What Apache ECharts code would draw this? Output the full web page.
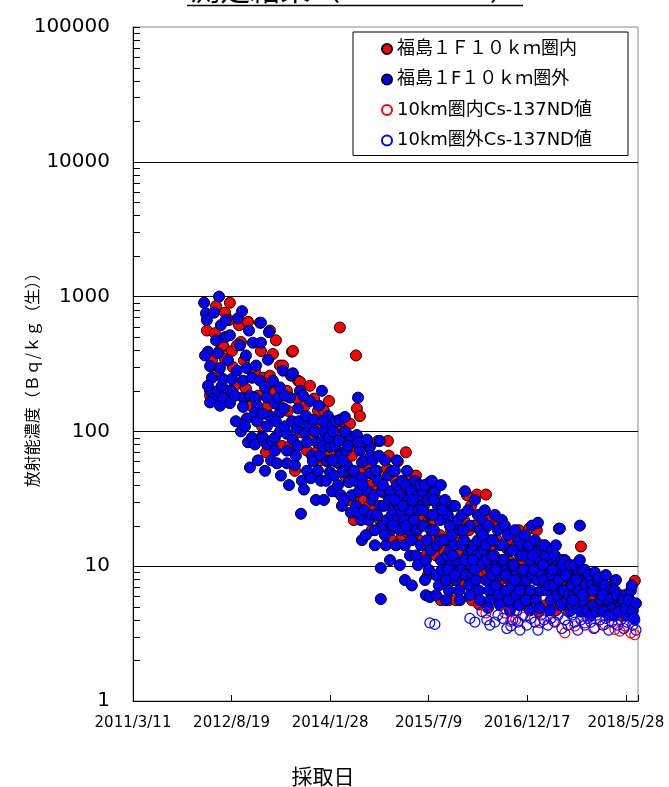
<!DOCTYPE html>
<html>
<head>
<meta charset="utf-8">
<script src="https://cdn.jsdelivr.net/npm/echarts@6/dist/echarts.min.js"></script>
<style>
  html, body { margin: 0; padding: 0; background: #fff; }
  #chart { width: 669px; height: 787px; }
</style>
</head>
<body>
<div id="chart"></div>
<script>
// x = days since 2011/3/11, y = Bq/kg
const dayStep = 527;
const xMaxDay = 2700;
const xTickLabels = ['2011/3/11', '2012/8/19', '2014/1/28', '2015/7/9', '2016/12/17', '2018/5/28'];
const yTickLabels = ['1', '10', '100', '1000', '10000', '100000'];
const seriesNames = ['福島１Ｆ１０ｋｍ圏内', '福島１F１０ｋｍ圏外', '10km圏内Cs-137ND値', '10km圏外Cs-137ND値'];

// 福島1F10km圏内
const inner10km = [
  [395,560],[422,336],[412,184],
  [444,850],[438,535],[465,400],[454,275],
  [518,900],[492,760],[481,435],[529,395],[492,345],[534,300],[502,200],[513,670],
  [577,460],[556,435],[567,614],[545,218],
  [615,650],[604,207],[631,155],[593,336],
  [652,282],[684,395],[679,640],[668,184],[690,109],
  [695,250],[732,259],[722,155],[711,70],[732,560],
  [748,375],[770,212],[786,308],[759,195],[797,78],[780,155],[764,474],
  [802,308],[823,200],[839,78],[828,142],[850,390],
  [882,238],[855,395],[893,233],[877,175],[903,98],[866,51],
  [930,72],[919,155],[946,218],[957,87],
  [973,69],[1000,105],[989,142],[1005,61],[968,175],
  [1048,168],[1037,92],[1026,66],[1058,85],[1021,142],
  [1106,590],[1096,102],[1117,119],[1085,72],[1112,56],[1074,36],
  [1160,114],[1144,85],[1170,66],[1133,47],[1165,43],[1154,31],
  [1192,366],[1197,148],[1213,130],[1187,78],[1219,51],[1203,32],[1181,22],
  [1245,78],[1256,56],[1272,40],[1235,31],[1261,28],[1277,18.5],
  [1310,85],[1304,51],[1325,43],[1288,26],[1320,22],[1299,36],
  [1358,53],[1368,66],[1342,35],[1379,28],[1352,20],[1384,15.6],[1363,85],
  [1406,43],[1427,26],[1395,33.6],[1438,17],[1416,60],
  [1459,70],[1449,36],[1475,24],[1486,31],[1465,18],[1491,47],
  [1518,36],[1502,26],[1539,22],[1529,15.6],[1513,47],[1545,28],[1496,17],
  [1572,36],[1555,28],[1582,22],[1593,15.6],[1566,12],[1598,31],[1577,8.6],[1587,42],
  [1625,31],[1609,22],[1641,17],[1620,12],[1651,14.3],[1635,8.6],[1646,5.6],
  [1678,22],[1662,13.1],[1694,15.6],[1668,10.2],[1705,7.9],[1689,5.6],[1699,18.5],
  [1732,15.6],[1716,10.2],[1748,12],[1759,7.2],[1726,5.6],[1743,20],
  [1786,33.6],[1770,22],[1801,14.3],[1780,10.2],[1812,5.6],[1796,18.5],[1807,28],
  [1839,34],[1823,20],[1855,15.6],[1834,11.1],[1866,8.6],[1850,5.2],
  [1887,34],[1876,18.5],[1908,13.1],[1892,9.4],[1914,7.2],[1903,22],
  [1946,15.6],[1930,11.1],[1962,7.9],[1941,5.6],[1972,6.6],[1957,20],
  [1999,13.5],[1983,9.4],[2015,10.8],[1994,5.6],[2026,15.6],[2010,7.9],
  [2052,14.3],[2036,8.6],[2069,10.2],[2047,5.6],[2079,6.6],[2063,18.5],
  [2106,12],[2090,7.2],[2122,9.4],[2101,5.15],[2133,14.3],[2117,19],
  [2159,18.5],[2143,11.1],[2175,7.9],[2154,6.1],[2186,12],[2170,4.6],
  [2213,13.1],[2197,9.4],[2229,6.6],[2208,5.15],[2240,10.2],[2224,8.6],
  [2266,11.1],[2250,8.6],[2282,6.1],[2261,4.7],[2293,9.4],[2277,19],
  [2320,10.2],[2304,7.9],[2336,5.6],[2314,6.6],[2347,8.6],[2330,4.6],
  [2395,14],[2373,9.4],[2357,7.2],[2389,5.6],[2368,6.1],[2400,4.7],
  [2427,8.6],[2410,6.6],[2443,5.6],[2421,4.7],[2453,6.1],
  [2480,6.6],[2464,5.6],[2496,7.9],[2507,5.15],
  [2534,6.8],[2517,5.15],[2550,6.1],[2560,4.7],
  [2576,7.8],[2592,5.15],[2603,6.1],[2614,4.3],
  [2683,7.8],[2646,6.1],[2624,4.7],[2656,5.6],[2672,5.15]
];

// 福島1F10km圏外
const outer10km = [
  [380,900],[390,750],[395,670],[401,390],[412,305],[422,250],[412,200],[428,175],[412,164],[385,366],[401,218],
  [460,1000],[454,380],[465,295],[454,200],[444,474],[470,614],[433,760],[465,155],[475,218],
  [492,500],[481,245],[481,178],[518,517],[518,162],[508,336],[529,245],[497,670],[524,200],
  [561,690],[556,282],[583,780],[588,238],[588,178],[588,152],[572,435],[550,119],[577,100],[545,184],
  [609,295],[641,455],[620,560],[636,250],[609,125],[615,83],[625,54],[636,90],[604,366],[625,184],[599,109],
  [684,640],[684,455],[652,178],[663,155],[652,138],[663,119],[652,80],[679,238],[690,92],[668,61],[658,308],
  [727,545],[722,340],[706,212],[716,178],[732,130],[695,135],[716,109],[695,90],[716,80],[738,61],[706,51],[743,85],
  [748,238],[759,162],[775,178],[786,212],[786,138],[759,90],[759,72],[802,282],[770,58],[786,100],[764,119],[791,47],
  [823,96],[812,109],[823,72],[839,178],[823,58],[845,259],[807,148],[834,40],[850,119],[812,184],
  [855,270],[855,87],[882,148],[877,105],[882,78],[866,56],[898,24.5],[893,200],[871,66],[903,43],[887,119],
  [919,98],[930,83],[930,51],[946,168],[925,130],[957,66],[914,37],[941,109],[951,45],[909,184],
  [984,83],[989,51],[1010,200],[973,100],[1000,66],[968,122],[1005,43],[978,31],[994,155],[1010,85],[962,60],
  [1016,77],[1053,77],[1053,50],[1037,60],[1026,100],[1042,130],[1064,36],[1021,31],[1058,61],[1032,43],[1048,90],[1016,119],[1064,109],
  [1069,100],[1090,59],[1122,50],[1080,78],[1106,66],[1096,40],[1112,33.6],[1074,47],[1085,119],[1101,85],[1117,28],[1069,61],[1106,122],
  [1133,128],[1144,56],[1176,51],[1160,92],[1138,72],[1154,42],[1170,33.6],[1128,31],[1149,78],[1165,25],[1133,100],[1122,61],
  [1203,178],[1197,94],[1224,59],[1213,72],[1187,43],[1208,36],[1192,28],[1219,22],[1224,15.6],[1181,51],[1203,83],[1224,45],[1197,25],
  [1267,49],[1267,77],[1240,61],[1256,36],[1277,31],[1235,26],[1261,22],[1245,17],[1272,66],[1229,40],[1251,87],[1277,24],
  [1320,85],[1293,14.3],[1325,9.7],[1325,5.7],[1299,51],[1309,43],[1288,33.6],[1320,28],[1304,24],[1331,20],[1282,61],[1315,66],[1293,18.5],[1331,36],
  [1347,61],[1363,47],[1374,36],[1342,28],[1358,22],[1379,18.5],[1352,14.3],[1368,31],[1384,24],[1336,40],[1374,11.1],[1384,51],[1347,17],
  [1400,51],[1411,40],[1427,33.6],[1395,26],[1416,22],[1432,18.5],[1406,14.3],[1422,28],[1438,43],[1390,20],[1454,7.9],[1427,10.2],[1400,31],[1438,25],[1411,61],
  [1459,40],[1470,31],[1481,26],[1449,22],[1475,18.5],[1491,7.2],[1454,14.3],[1486,36],[1465,51],[1443,28],[1481,12],[1491,15.6],[1459,20],
  [1507,43],[1523,33.6],[1534,28],[1502,22],[1518,18.5],[1539,14.3],[1513,12],[1529,26],[1545,36],[1496,31],[1523,10.2],[1545,20],[1534,40],
  [1566,6.1],[1587,5.9],[1561,40],[1577,31],[1587,24],[1555,20],[1572,15.6],[1593,13.1],[1566,11.1],[1582,9.4],[1598,33.6],[1550,26],[1593,18.5],[1561,7.9],[1598,43],
  [1614,36],[1630,28],[1641,22],[1609,18.5],[1625,14.3],[1646,11.1],[1620,8.6],[1635,7.2],[1651,26],[1603,24],[1641,15.6],[1620,6.1],[1651,9.4],[1609,31],[1646,40],
  [1668,31],[1683,24],[1694,20],[1662,15.6],[1678,12],[1699,10.2],[1673,7.9],[1689,6.6],[1705,17],[1657,26],[1694,13.1],[1673,5.6],[1705,28],[1683,9.4],
  [1721,28],[1737,22],[1748,18.5],[1716,14.3],[1732,11.1],[1753,9.4],[1726,7.9],[1743,6.6],[1759,14.3],[1710,12],[1748,5.6],[1759,24],[1721,8.6],
  [1775,36],[1791,26],[1801,20],[1770,15.6],[1786,12],[1807,10.2],[1780,8.6],[1796,7.2],[1812,13.1],[1764,18.5],[1801,6.1],[1812,8.6],[1775,11.1],
  [1828,31],[1844,24],[1855,18.5],[1823,14.3],[1839,12],[1860,10.2],[1834,7.9],[1850,6.6],[1866,14.3],[1817,11.1],[1855,5.6],[1866,22],[1828,9.4],[1844,15.6],
  [1881,26],[1898,20],[1908,15.6],[1876,13.1],[1892,11.1],[1914,9.4],[1887,7.9],[1903,6.6],[1919,12],[1871,17],[1908,5.6],[1919,8.6],[1887,14.3],[1898,4.9],
  [1935,24],[1951,18.5],[1962,14.3],[1930,12],[1946,10.2],[1967,8.6],[1941,7.2],[1957,6.1],[1972,11.1],[1924,15.6],[1962,5.15],[1972,22],[1941,9.4],
  [1988,20],[2004,17],[2015,13.1],[1983,11.1],[1999,9.4],[2020,7.9],[1994,6.6],[2010,5.6],[2026,10.2],[1977,14.3],[2015,4.7],[2026,7.2],[1994,8.6],
  [2042,18.5],[2058,15.6],[2069,12],[2036,10.2],[2052,8.6],[2074,7.2],[2047,6.1],[2063,5.15],[2079,9.4],[2031,13.1],[2069,6.6],[2079,14.3],[2042,7.9],
  [2095,17],[2111,13.1],[2122,11.1],[2090,9.4],[2106,7.9],[2127,6.6],[2101,5.6],[2117,14.3],[2133,8.6],[2085,12],[2122,4.7],[2133,20],
  [2149,15.6],[2165,21],[2175,11.1],[2143,9.4],[2159,7.9],[2181,6.6],[2154,5.6],[2170,13.1],[2186,8.6],[2138,12],[2175,4.9],[2186,14.3],
  [2202,14.3],[2218,11.1],[2229,9.4],[2197,7.9],[2213,6.6],[2234,5.6],[2208,12],[2224,7.2],[2240,8.6],[2192,10.2],[2229,4.7],[2240,13.1],
  [2256,12],[2272,10.2],[2282,8.6],[2250,7.2],[2266,6.1],[2288,5.15],[2261,14.3],[2277,7.9],[2293,6.6],[2245,9.4],[2282,19],[2293,11.1],
  [2309,11.1],[2325,9.4],[2336,7.9],[2304,6.6],[2320,5.6],[2341,4.7],[2314,8.6],[2330,6.1],[2347,7.2],[2298,10.2],[2336,10.2],[2347,5.15],
  [2362,10.2],[2378,8.6],[2389,7.2],[2357,6.1],[2373,5.15],[2395,4.6],[2368,7.9],[2384,6.6],[2400,9.4],[2352,5.6],[2389,11.1],[2389,20],
  [2416,9.4],[2432,7.9],[2443,6.6],[2410,5.6],[2427,4.7],[2448,4.3],[2421,7.2],[2438,8.6],[2453,5.15],[2405,6.1],[2453,7.2],
  [2469,9.0],[2485,7.2],[2496,6.1],[2464,5.15],[2480,4.6],[2501,5.6],[2475,6.6],[2491,8.2],[2507,4.7],[2458,6.6],
  [2523,7.2],[2539,6.1],[2550,5.15],[2517,4.6],[2534,5.6],[2555,6.6],[2528,8.6],[2544,4.3],[2560,5.8],[2512,6.1],
  [2576,6.6],[2592,5.6],[2603,4.7],[2571,4.3],[2587,6.1],[2608,5.15],[2582,7.9],[2598,4.6],[2614,5.6],
  [2630,6.1],[2646,5.15],[2656,4.6],[2624,5.6],[2640,4.3],[2662,6.6],[2635,4.9],[2651,5.6],[2672,4.7],[2667,7.2],[2678,4.1],[2689,5.3]
];

// 10km圏内 Cs-137 ND値
const innerND = [
  [1887,4.5],[1988,4.5],[2020,3.9],[2046,4.0],[2095,4.2],[2175,3.8],[2250,3.9],[2309,3.2],
  [2362,3.6],[2416,3.8],[2469,3.5],[2523,3.7],[2576,3.4],[2603,3.3],[2630,3.6],[2662,3.2],[2683,3.1]
];

// 10km圏外 Cs-137 ND値
const outerND = [
  [1587,3.8],[1614,3.7],[1801,4.1],[1828,3.85],[1866,4.6],[1892,4.0],[1908,3.66],[1935,3.85],[1951,4.34],
  [1977,4.1],[1999,3.45],[2020,3.6],[2031,4.0],[2052,4.7],[2058,3.85],[2069,3.36],[2085,4.34],[2106,3.66],
  [2127,4.1],[2149,3.85],[2165,3.36],[2181,4.34],[2197,4.0],[2218,3.66],[2234,4.1],[2256,3.85],[2272,4.34],
  [2293,3.45],[2309,4.0],[2325,3.66],[2347,4.34],[2362,3.85],[2378,3.36],[2395,4.0],[2416,3.66],[2432,4.1],
  [2448,3.85],[2464,3.45],[2480,4.34],[2496,4.0],[2512,3.66],[2528,4.1],[2544,3.36],[2560,3.85],[2576,4.34],
  [2592,3.66],[2608,4.0],[2624,3.45],[2640,3.85],[2656,4.34],[2672,3.66],[2683,4.0],[2689,3.36]
];

// log minor ticks (2..9 in each decade)
const minorTicks = [];
for (let p = 1; p < 100000; p *= 10) {
  for (let k = 2; k <= 9; k++) minorTicks.push([0, k * p]);
}

const latin = "'DejaVu Sans', 'Noto Sans CJK JP', sans-serif";
const jp = "'Noto Sans CJK JP', sans-serif";

const chart = echarts.init(document.getElementById('chart'));

const dotStyle = (color) => ({ color: color, borderColor: '#000', borderWidth: 1, opacity: 1 });
const ringStyle = (color) => ({ color: 'rgba(255,255,255,0)', borderColor: color, borderWidth: 1.2, opacity: 1 });

const option = {
  animation: false,
  backgroundColor: '#fff',
  grid: {
    left: 133, top: 27, width: 505, height: 674,
    show: true, borderColor: '#888', borderWidth: 1,
    outerBoundsMode: 'none'
  },
  legend: {
    orient: 'vertical',
    left: 353, top: 32,
    padding: [8, 36, 6, 28],
    itemGap: 12.5,
    itemWidth: 10, itemHeight: 10,
    borderColor: '#000', borderWidth: 1, borderRadius: 0,
    backgroundColor: '#fff',
    textStyle: { fontSize: 18, lineHeight: 18, fontFamily: latin, color: '#000' },
    data: seriesNames
  },
  xAxis: {
    type: 'value',
    min: 0, max: xMaxDay, interval: dayStep,
    axisLine: { onZero: false, lineStyle: { color: '#000', width: 1 } },
    axisTick: { inside: true, length: 6, lineStyle: { color: '#000' } },
    axisLabel: {
      margin: 15, color: '#000', fontSize: 15, fontFamily: latin,
      formatter: (v) => (v % dayStep === 0 ? xTickLabels[v / dayStep] : '')
    },
    splitLine: { show: false }
  },
  yAxis: {
    type: 'log', logBase: 10, min: 1, max: 100000,
    axisLine: { show: true, lineStyle: { color: '#000', width: 1 } },
    axisTick: { show: true, inside: true, length: 7, lineStyle: { color: '#000' } },
    axisLabel: {
      margin: 23, color: '#000', fontSize: 20, fontFamily: latin,
      formatter: (v) => yTickLabels[Math.round(Math.log10(v))]
    },
    splitLine: { show: true, showMinLine: false, showMaxLine: false, lineStyle: { color: '#000', width: 1 } }
  },
  graphic: [
    {
      type: 'text', x: 355, y: 4, silent: true,
      style: { text: '測定結果（Cs134+137）', font: "30px " + jp, align: 'center', verticalAlign: 'bottom', fill: '#000' }
    },
    { type: 'line', silent: true, shape: { x1: 187, y1: 5.5, x2: 523, y2: 5.5 }, style: { stroke: '#000', lineWidth: 1.5 } },
    {
      type: 'text', x: 32, y: 376, rotation: Math.PI / 2, silent: true,
      style: { text: '放射能濃度（Ｂｑ/ｋｇ（生））', font: "16px " + jp, align: 'center', verticalAlign: 'middle', fill: '#000' }
    },
    {
      type: 'text', x: 323, y: 776, silent: true,
      style: { text: '採取日', font: "21px " + jp, align: 'center', verticalAlign: 'middle', fill: '#000' }
    }
  ],
  series: [
    { name: seriesNames[0], type: 'scatter', symbol: 'circle', symbolSize: 11, data: inner10km, itemStyle: dotStyle('#ff0000') },
    { name: seriesNames[1], type: 'scatter', symbol: 'circle', symbolSize: 11, data: outer10km, itemStyle: dotStyle('#0000ff') },
    { name: seriesNames[2], type: 'scatter', symbol: 'circle', symbolSize: 10, data: innerND, itemStyle: ringStyle('#ff0000') },
    { name: seriesNames[3], type: 'scatter', symbol: 'circle', symbolSize: 10, data: outerND, itemStyle: ringStyle('#0000ff') },
    {
      type: 'custom', silent: true, clip: false, z: 5,
      data: minorTicks,
      renderItem: (params, api) => {
        const pt = api.coord([0, api.value(1)]);
        const y = Math.round(pt[1]) + 0.5;
        return {
          type: 'line',
          shape: { x1: pt[0], y1: y, x2: pt[0] + 7, y2: y },
          style: { stroke: '#000', lineWidth: 1 }
        };
      }
    }
  ]
};

chart.setOption(option);
window.addEventListener('resize', () => chart.resize());
</script>
</body>
</html>
